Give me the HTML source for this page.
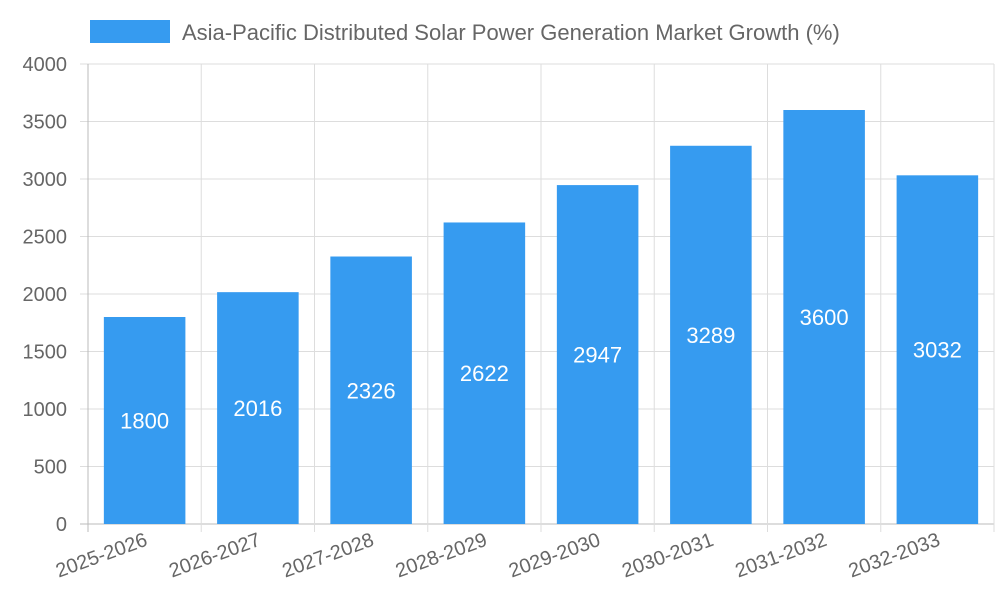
<!DOCTYPE html>
<html><head><meta charset="utf-8"><style>
body{margin:0;background:#fff;}
svg{display:block;font-family:"Liberation Sans",sans-serif;}
</style></head><body>
<svg id="chart" width="1000" height="600" viewBox="0 0 1000 600">
<g>
<rect x="90" y="20" width="80" height="23" fill="#369bf0"/>
<text x="182" y="40" font-size="22" fill="#666">Asia-Pacific Distributed Solar Power Generation Market Growth (%)</text>
</g>
<g id="grid"></g><g id="bars"></g><g id="labels"></g>
</svg>
<script>
const categories=["2025-2026","2026-2027","2027-2028","2028-2029","2029-2030","2030-2031","2031-2032","2032-2033"];
const values=[1800,2016,2326,2622,2947,3289,3600,3032];
const yTicks=[0,500,1000,1500,2000,2500,3000,3500,4000];
const X0=88,X1=994,Y0=524,Y1=64,YMAX=4000;
const bw=(X1-X0)/categories.length;
const y=v=>Y0-(v/YMAX)*(Y0-Y1);
const xc=i=>X0+bw*(i+0.5);
const ns="http://www.w3.org/2000/svg";
function mk(t,a,p){const e=document.createElementNS(ns,t);for(const k in a)e.setAttribute(k,a[k]);p.appendChild(e);return e;}
const g=document.getElementById('grid'),b=document.getElementById('bars'),l=document.getElementById('labels');
yTicks.forEach(t=>{
 const ln=mk('line',{x1:X0-8,x2:X1,y1:y(t),y2:y(t),stroke:t===0?'#bbb':'#ddd','stroke-width':1},g);
 
 
 const tx=mk('text',{x:67,y:y(t)+7,'text-anchor':'end','font-size':20,fill:'#666'},l);
 tx.textContent=t;
 
 
});
for(let i=0;i<=categories.length;i++){
 const x=X0+bw*i;
 const ln=mk('line',{x1:x,x2:x,y1:Y1,y2:Y0+8,stroke:i===0?'#bbb':'#ddd','stroke-width':1},g);
 
 
}
categories.forEach((c,i)=>{
 const w=bw*0.72,v=values[i];
 const r=mk('rect',{x:xc(i)-w/2,y:y(v),width:w,height:Y0-y(v),fill:'#369bf0'},b);
 
 
 const vt=mk('text',{x:xc(i),y:(y(v)+Y0)/2+8,'text-anchor':'middle','font-size':22,fill:'#fff'},l);
 vt.textContent=v;
 
 
 const xt=mk('text',{x:xc(i)+4,y:545,'text-anchor':'end','font-size':20,fill:'#666',transform:`rotate(-20 ${xc(i)+4} 545)`},l);
 xt.textContent=c;
 
 
});
</script>
</body></html>
